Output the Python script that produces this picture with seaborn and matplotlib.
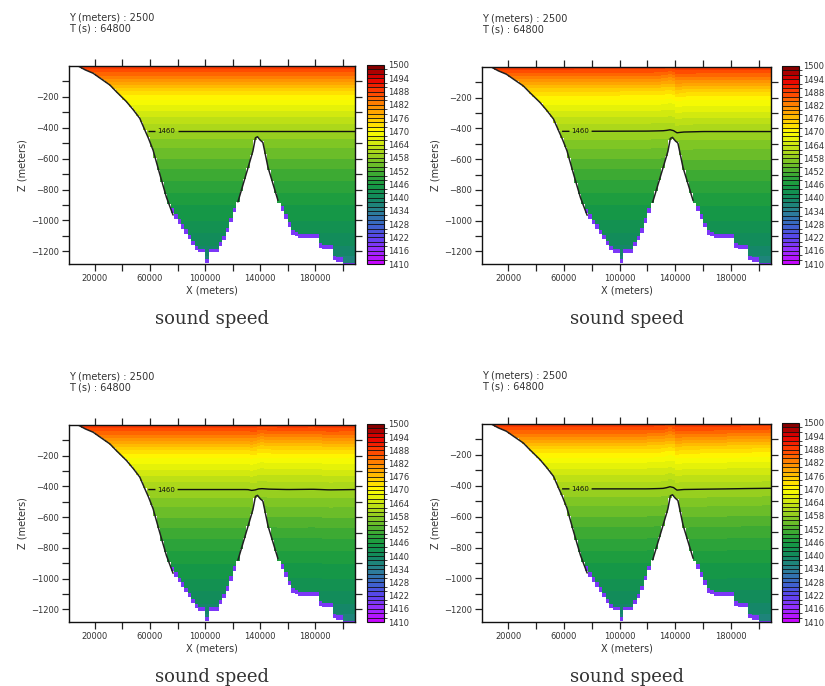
import numpy as np
import matplotlib
matplotlib.use("Agg")
import matplotlib.pyplot as plt
import seaborn as sns
from matplotlib.colors import LinearSegmentedColormap, BoundaryNorm
from matplotlib.ticker import FixedLocator, FixedFormatter

# ---------------- data ----------------
# bathymetry (bottom depth) along the section
bathy_x = [1250, 7900, 13000, 18800, 24000, 30900, 36000, 42950, 48000, 52600,
           56230, 59000, 62250, 67100, 71950,
           76750, 84000, 91250, 95000, 99500, 101250, 103000, 109000, 111000,
           115400, 123800, 131100, 134700, 136500, 138000, 140000, 141900,
           143200, 145600, 152850, 163700, 168000, 182000, 184000, 192000,
           194000, 199000, 201000, 208750]
bathy_z = [0, 0, -25, -47, -80, -123, -170, -231, -285, -339,
           -414, -470, -545, -700, -850,
           -965, -1055, -1160, -1210, -1210, -1278, -1210, -1210, -1170,
           -1100, -880, -660, -550, -465, -458, -480, -495,
           -550, -655, -870, -1090, -1115, -1115, -1185, -1190,
           -1265, -1270, -1300, -1300]

# sound-speed profile (m/s) versus depth
prof_z = [0, -50, -100, -150, -200, -250, -300, -350, -420, -500, -600,
          -700, -800, -900, -1000, -1100, -1200, -1300]
prof_c = [1489.5, 1485, 1480, 1475, 1471, 1468, 1465.5, 1463, 1460, 1457, 1454,
          1451, 1448.5, 1446, 1444, 1441.5, 1439, 1436]

# vertical displacement (m) of the 1460 isoline in each panel
disp_x = [1250, 120000, 131000, 135000, 137500, 141000, 146000, 160000, 178000, 190000, 208750]
disp_panels = [
    [0, 0, 0, 0, 0, 0, 0, 0, 0, 0, 0],
    [0, 3, 5, 9, 14, -8, -3, 0, 0, 0, 0],
    [0, 0, 0, -8, 3, 6, 3, 0, 2, -2, 0],
    [0, 0, 3, 10, 18, -8, -4, -2, 0, 2, 4],
]

panel_titles = ["Y (meters) : 2500\nT (s) : 64800"] * 4
panel_caption = "sound speed"
xtick_major = [20000, 60000, 100000, 140000, 180000]
xtick_labels = ["20000", "60000", "100000", "140000", "180000"]
xtick_minor = [40000, 80000, 120000, 160000, 200000]
ytick_major = [-200, -400, -600, -800, -1000, -1200]
ytick_labels = ["\u2212200", "\u2212400", "\u2212600", "\u2212800", "\u22121000", "\u22121200"]
ytick_minor = [-100, -300, -500, -700, -900, -1100]
levels = list(range(1410, 1502, 2))
cbar_ticks = list(range(1410, 1501, 6))
contour_level = 1460

# ---------------- styling ----------------
sns.set_style("ticks")
plt.rcParams["font.family"] = ["DejaVu Sans"]

anchor_vals = [1410, 1416, 1422, 1428, 1434, 1440, 1446, 1452, 1458, 1464,
               1470, 1476, 1482, 1488, 1494, 1500]
anchor_cols = ["#cc00ff", "#9a2cff", "#5a44ee", "#3a66c8", "#2a7f92", "#11895f",
               "#169a42", "#45ad30", "#8ccb22", "#c8e412", "#ffff00", "#ffc400",
               "#ff8a00", "#ff4400", "#e60000", "#7a0000"]
lin = LinearSegmentedColormap.from_list(
    "ss", [((v - 1410) / 90.0, c) for v, c in zip(anchor_vals, anchor_cols)])
band_mid = [(a + 1 - 1410) / 90.0 for a in levels[:-1]]
cmap = matplotlib.colors.ListedColormap([lin(m) for m in band_mid])
norm = BoundaryNorm(levels, cmap.N)

W, H = 825, 686
fig = plt.figure(figsize=(W / 100, H / 100), dpi=100)

# panel boxes in pixels: (left, top, right, bottom), colorbar (left, right)
boxes = [(69, 66, 355, 264), (482, 67, 771, 264), (69, 425, 355, 622), (482, 424, 771, 622)]
cboxes = [(367, 384), (782, 799), (367, 384), (782, 799)]

xs = np.arange(1250, 208751, 2500)
zs = np.arange(-1300, 0.1, 5)
XX, ZZ = np.meshgrid(xs, zs)
bottom = np.interp(xs, bathy_x, bathy_z)
BB = np.broadcast_to(bottom, XX.shape)
wet = ZZ > BB
fringe = wet & (ZZ - BB < 30) & (BB < -930)

bz = np.array(bathy_z, dtype=float)
line_z = np.where(bz < -1000, np.nan, bz)

for i in range(4):
    l, t, r, b = boxes[i]
    ax = fig.add_axes([l / W, 1 - b / H, (r - l) / W, (b - t) / H])
    dz = np.interp(xs, disp_x, disp_panels[i])
    C = np.interp(ZZ - dz[None, :], prof_z[::-1], prof_c[::-1])
    Cm = np.where(fringe, 1419.0, C)
    Cm = np.ma.masked_where(~wet, Cm)
    mesh = ax.pcolormesh(xs, zs, Cm, cmap=cmap, norm=norm, shading="nearest")
    # outline of the bottom (shallower parts)
    ax.plot(bathy_x, line_z, color="#202020", lw=1.1)
    cs = ax.contour(xs, zs, np.ma.masked_where(~wet, C), levels=[contour_level],
                    colors="#101010", linewidths=1.0)
    ax.clabel(cs, fmt="%d", fontsize=5, inline=True, inline_spacing=2,
              manual=[(72000, -420)])
    ax.set_xlim(1250, 208750)
    ax.set_ylim(-1282, 0)
    ax.xaxis.set_major_locator(FixedLocator(xtick_major))
    ax.xaxis.set_major_formatter(FixedFormatter(xtick_labels))
    ax.xaxis.set_minor_locator(FixedLocator(xtick_minor))
    ax.yaxis.set_major_locator(FixedLocator(ytick_major))
    ax.yaxis.set_major_formatter(FixedFormatter(ytick_labels))
    ax.yaxis.set_minor_locator(FixedLocator(ytick_minor))
    ax.tick_params(which="both", direction="out", top=True, right=True,
                   length=5, width=0.9, color="#222222", labelsize=6,
                   labelcolor="#333333", pad=2)
    ax.set_xlabel("X (meters)", fontsize=7, color="#333333", labelpad=2)
    ax.set_ylabel("Z (meters)", fontsize=7, color="#333333", labelpad=3)
    for s in ax.spines.values():
        s.set_color("#111111")
        s.set_linewidth(1.0)
        s.set_visible(True)

    cl, cr = cboxes[i]
    cax = fig.add_axes([cl / W, 1 - b / H, (cr - cl) / W, (b - t + 1) / H])
    cb = fig.colorbar(mesh, cax=cax, ticks=cbar_ticks, drawedges=True)
    cb.dividers.set_color("#111111")
    cb.dividers.set_linewidth(0.6)
    cb.outline.set_linewidth(0.8)
    cb.outline.set_edgecolor("#111111")
    cax.tick_params(length=0, labelsize=6, labelcolor="#333333", pad=3)

    # header and caption
    fig.text(l / W, 1 - (t - 43) / H, panel_titles[i], fontsize=7,
             color="#333333", ha="left", va="center", linespacing=1.2)
    fig.text(((l + r) / 2) / W, 1 - (b + 55) / H, panel_caption,
             family="DejaVu Serif", fontsize=13, color="#333333",
             ha="center", va="center")

fig.savefig("out.png", dpi=100)
